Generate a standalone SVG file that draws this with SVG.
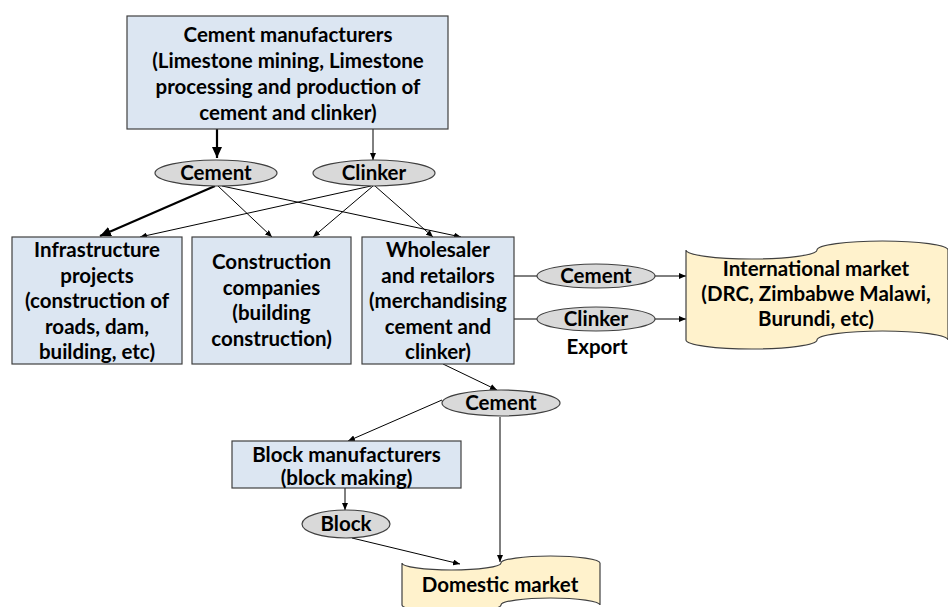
<svg xmlns="http://www.w3.org/2000/svg" width="948" height="607" viewBox="0 0 948 607">
<defs>
<style>
text{font-family:Lato,"Liberation Sans",sans-serif;font-weight:bold;font-size:20.5px;fill:#000;text-anchor:middle}
.box{fill:#dce6f2;stroke:#404040;stroke-width:1.2}
.ell{fill:#d9d9d9;stroke:#404040;stroke-width:1.2}
.tape{fill:#fff2cc;stroke:#404040;stroke-width:1.2}
.ln{fill:none;stroke:#000;stroke-width:1}
.thick{fill:none;stroke:#000;stroke-width:2.2}
</style>
<marker id="ah" markerUnits="userSpaceOnUse" markerWidth="7" markerHeight="6" refX="7" refY="3" orient="auto"><path d="M0,0 L7,3 L0,6 Z" fill="#000"/></marker>
<marker id="ahb" markerUnits="userSpaceOnUse" markerWidth="11" markerHeight="10" refX="11" refY="5" orient="auto"><path d="M0,0 L11,5 L0,10 Z" fill="#000"/></marker>
</defs>
<rect width="948" height="607" fill="#fff"/>
<g id="connectors">
<line class="thick" x1="217" y1="129" x2="217" y2="158" marker-end="url(#ahb)"/>
<line class="ln" x1="373" y1="129" x2="373" y2="160" marker-end="url(#ah)"/>
<line class="thick" x1="215" y1="186" x2="100" y2="236" marker-end="url(#ahb)"/>
<line class="ln" x1="218" y1="186" x2="272" y2="237" marker-end="url(#ah)"/>
<line class="ln" x1="222" y1="186" x2="461" y2="237" marker-end="url(#ah)"/>
<line class="ln" x1="371" y1="186" x2="140" y2="237" marker-end="url(#ah)"/>
<line class="ln" x1="373" y1="186" x2="313" y2="237" marker-end="url(#ah)"/>
<line class="ln" x1="375" y1="186" x2="433" y2="237" marker-end="url(#ah)"/>
<line class="ln" x1="514" y1="276" x2="537" y2="276"/>
<line class="ln" x1="655" y1="276" x2="686" y2="276" marker-end="url(#ah)"/>
<line class="ln" x1="514" y1="319" x2="537" y2="319"/>
<line class="ln" x1="655" y1="319" x2="686" y2="319" marker-end="url(#ah)"/>
<line class="ln" x1="443" y1="364" x2="497" y2="390" marker-end="url(#ah)"/>
<line class="ln" x1="442" y1="400" x2="348" y2="441" marker-end="url(#ah)"/>
<line class="ln" x1="500" y1="417" x2="500" y2="562" marker-end="url(#ah)"/>
<line class="ln" x1="345" y1="488" x2="345" y2="510" marker-end="url(#ah)"/>
<line class="ln" x1="352" y1="538" x2="460" y2="564" marker-end="url(#ah)"/>
</g>
<g id="cement-manufacturers">
<rect class="box" x="127" y="16" width="321" height="113"/>
<text x="288" y="42">Cement manufacturers</text>
<text x="288" y="68">(Limestone mining, Limestone</text>
<text x="288" y="94">processing and production of</text>
<text x="288" y="120">cement and clinker)</text>
</g>
<g id="cement-1"><ellipse class="ell" cx="216" cy="173" rx="61" ry="13"/><text x="216" y="180">Cement</text></g>
<g id="clinker-1"><ellipse class="ell" cx="374" cy="173" rx="61" ry="13"/><text x="374" y="180">Clinker</text></g>
<g id="infrastructure">
<rect class="box" x="12" y="237" width="170" height="127"/>
<text x="97" y="257">Infrastructure</text>
<text x="97" y="282.5">projects</text>
<text x="97" y="308">(construction of</text>
<text x="97" y="333.5">roads, dam,</text>
<text x="97" y="359">building, etc)</text>
</g>
<g id="construction">
<rect class="box" x="192" y="237" width="159" height="127"/>
<text x="271.5" y="269">Construction</text>
<text x="271.5" y="294.5">companies</text>
<text x="271.5" y="320">(building</text>
<text x="271.5" y="345.5">construction)</text>
</g>
<g id="wholesaler">
<rect class="box" x="362" y="237" width="152" height="127"/>
<text x="438" y="257">Wholesaler</text>
<text x="438" y="282.5">and retailors</text>
<text x="438" y="308">(merchandising</text>
<text x="438" y="333.5">cement and</text>
<text x="438" y="359">clinker)</text>
</g>
<g id="export-cement"><ellipse class="ell" cx="596" cy="276" rx="59" ry="12"/><text x="596" y="283">Cement</text></g>
<g id="export-clinker"><ellipse class="ell" cx="596" cy="319" rx="59" ry="12"/><text x="596" y="326">Clinker</text></g>
<g id="export-label"><text x="597" y="354">Export</text></g>
<g id="international-market">
<path class="tape" d="M686,250 A65.5,9 0 0 0 817,250 A65.5,9 0 0 1 948,250 L948,340 A65.5,9 0 0 0 817,340 A65.5,9 0 0 1 686,340 Z"/>
<text x="816" y="276">International market</text>
<text x="816" y="301">(DRC, Zimbabwe Malawi,</text>
<text x="816" y="326">Burundi, etc)</text>
</g>
<g id="cement-domestic"><ellipse class="ell" cx="501" cy="403" rx="59" ry="13"/><text x="501" y="410">Cement</text></g>
<g id="block-manufacturers">
<rect class="box" x="232" y="441" width="229" height="47"/>
<text x="346.5" y="462">Block manufacturers</text>
<text x="346.5" y="485">(block making)</text>
</g>
<g id="block"><ellipse class="ell" cx="346" cy="524" rx="44" ry="14"/><text x="346" y="531">Block</text></g>
<g id="domestic-market">
<path class="tape" d="M402,563 A49.5,7 0 0 0 501,563 A49.5,7 0 0 1 600,563 L600,605 A49.5,7 0 0 0 501,605 A49.5,7 0 0 1 402,605 Z"/>
<text x="500" y="592">Domestic market</text>
</g>
</svg>
